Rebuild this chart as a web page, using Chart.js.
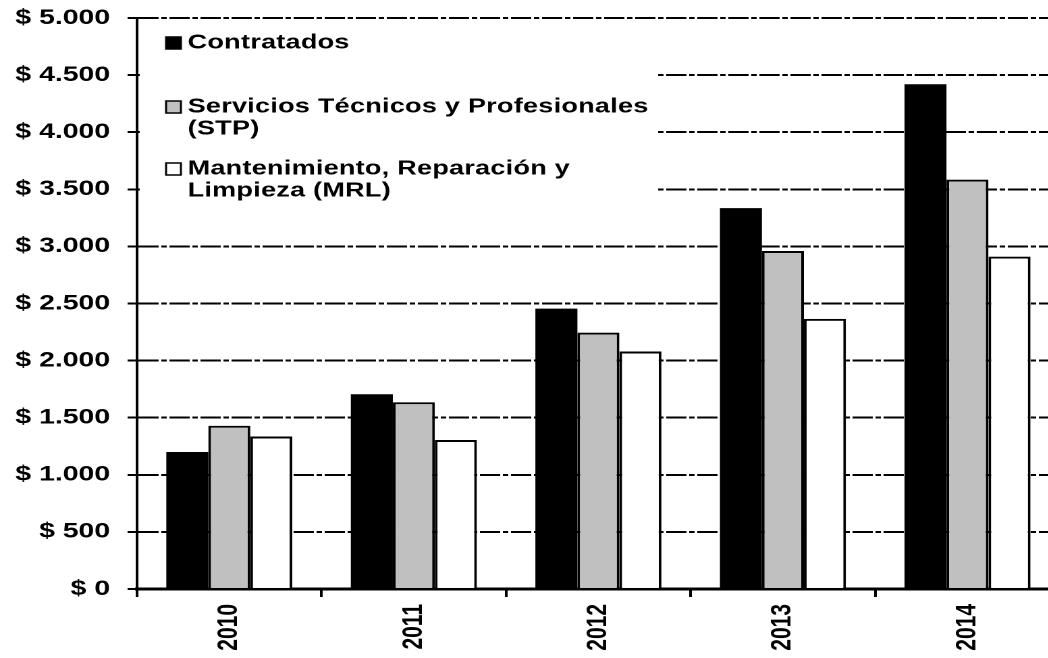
<!DOCTYPE html>
<html>
<head>
<meta charset="utf-8">
<script src="https://cdn.jsdelivr.net/npm/chart.js@4/dist/chart.umd.min.js"></script>
<style>
html, body { margin:0; padding:0; overflow:hidden; background:#fff; }
#marco { width:1048px; height:658px; overflow:hidden; }
/* el original esta estirado en horizontal */
#caja { position:relative; width:787px; height:658px; transform:scaleX(1.35); transform-origin:0 0; }
</style>
</head>
<body>
<div id="marco"><div id="caja"><canvas id="grafico"></canvas></div></div>
<script>
const anios = ['2010', '2011', '2012', '2013', '2014'];
const contratados = [1200, 1705, 2455, 3335, 4420];
const serviciosSTP = [1430, 1635, 2245, 2960, 3585];
const mantenimientoMRL = [1335, 1305, 2080, 2365, 2910];
const nombres = ['Contratados', 'Servicios Técnicos y Profesionales (STP)', 'Mantenimiento, Reparación y Limpieza (MRL)'];
const lineasLeyenda = [['Contratados'], ['Servicios Técnicos y Profesionales', '(STP)'], ['Mantenimiento, Reparación y', 'Limpieza (MRL)']];

const fuente = '"Liberation Sans", Arial, sans-serif';

function pesos(v){
	return '$ ' + String(v).replace(/\B(?=(\d{3})+(?!\d))/g, '.');
}

// leyenda dibujada dentro del area, tapando la cuadricula
const leyenda = {
	id: 'leyenda',
	beforeDatasetsDraw(chart){
		const ctx = chart.ctx;
		const area = chart.chartArea;
		const posY = [43, 107, 169];
		ctx.save();
		ctx.fillStyle = '#fff';
		ctx.fillRect(area.left + 2, 26, 384, 190);
		ctx.font = 'bold 20px ' + fuente;
		ctx.letterSpacing = '0.2px';
		ctx.textBaseline = 'middle';
		chart.data.datasets.forEach(function(ds, i){
			let y = posY[i];
			ctx.fillStyle = ds.backgroundColor;
			ctx.fillRect(123, y - 6, 11, 12);
			ctx.strokeStyle = '#000';
			ctx.lineWidth = 1.5;
			ctx.strokeRect(123, y - 6, 11, 12);
			ctx.fillStyle = '#000';
			lineasLeyenda[i].forEach(function(t, j){
				ctx.fillText(t, 139, y + j * 22);
			});
		});
		ctx.restore();
	}
};

new Chart(document.getElementById('grafico'), {
	type: 'bar',
	data: {
		labels: anios,
		datasets: [{
			label: nombres[0],
			data: contratados,
			backgroundColor: '#000000',
			borderColor: '#000000',
			borderWidth: 0
		},{
			label: nombres[1],
			data: serviciosSTP,
			backgroundColor: '#c0c0c0',
			borderColor: '#000000',
			borderWidth: 2
		},{
			label: nombres[2],
			data: mantenimientoMRL,
			backgroundColor: '#ffffff',
			borderColor: '#000000',
			borderWidth: 2
		}]
	},
	options: {
		responsive: true,
		maintainAspectRatio: false,
		devicePixelRatio: 2,
		animation: false,
		categoryPercentage: 0.683,
		barPercentage: 1,
		layout: { padding: { top: 18, right: 2, left: 0, bottom: 0 } },
		plugins: {
			legend: { display: false },
			tooltip: { enabled: false }
		},
		scales: {
			x: {
				grid: { display: true, drawOnChartArea: false, color: '#000', lineWidth: 2, tickLength: 8 },
				border: { color: '#000', width: 3 },
				ticks: {
					color: '#000',
					font: { family: fuente, size: 21, weight: 'bold' },
					minRotation: 90,
					maxRotation: 90,
					padding: 7
				},
				afterFit(scale){
					scale.height = 69;
					scale.paddingLeft = 0;
					scale.paddingRight = 0;
				}
			},
			y: {
				min: 0,
				max: 5000,
				grid: { color: '#000', lineWidth: 2, tickLength: 7, tickColor: '#000' },
				border: { color: '#000', width: 2, dash: [15, 2, 4, 2] },
				ticks: {
					stepSize: 500,
					color: '#000',
					padding: 13,
					font: { family: fuente, size: 21, weight: 'bold' },
					callback: function(v){ return pesos(v); }
				},
				afterFit(scale){
					scale.width = 101.5;
					scale.paddingTop = 0;
					scale.paddingBottom = 0;
				}
			}
		}
	},
	plugins: [leyenda]
});
</script>
</body>
</html>
